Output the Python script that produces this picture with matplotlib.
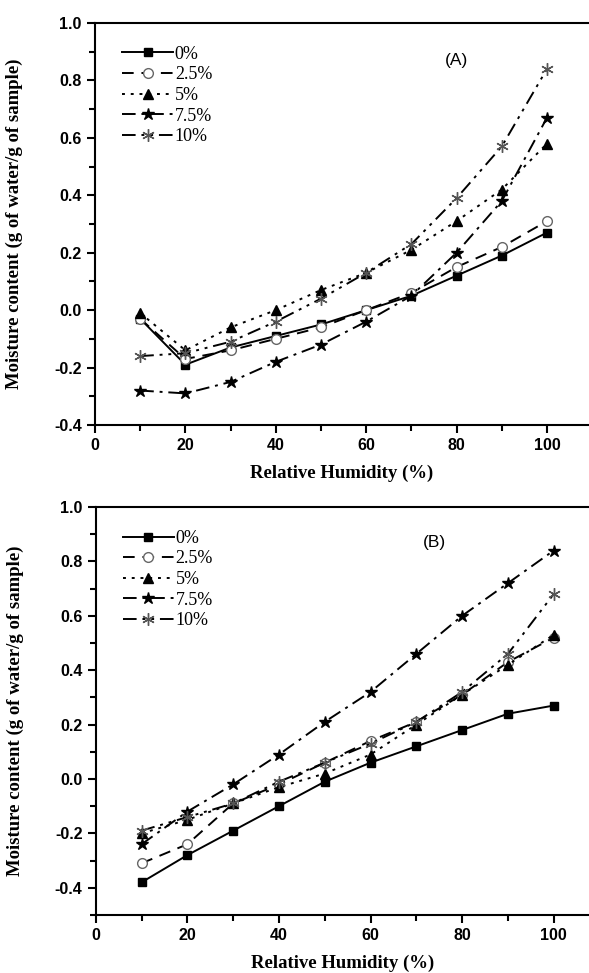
import numpy as np
import matplotlib
matplotlib.use('Agg')
import matplotlib.pyplot as plt

# Relative humidity levels
rh = [10, 20, 30, 40, 50, 60, 70, 80, 90, 100]
series_labels = ['0%', '2.5%', '5%', '7.5%', '10%']

# Panel (A) moisture content
a_0 = [-0.03, -0.19, -0.13, -0.09, -0.05, 0.00, 0.05, 0.12, 0.19, 0.27]
a_25 = [-0.03, -0.17, -0.14, -0.10, -0.06, 0.00, 0.06, 0.15, 0.22, 0.31]
a_5 = [-0.01, -0.14, -0.06, 0.00, 0.07, 0.13, 0.21, 0.31, 0.42, 0.58]
a_75 = [-0.28, -0.29, -0.25, -0.18, -0.12, -0.04, 0.05, 0.20, 0.38, 0.67]
a_10 = [-0.16, -0.15, -0.11, -0.04, 0.04, 0.13, 0.23, 0.39, 0.57, 0.84]

# Panel (B) moisture content
b_0 = [-0.38, -0.28, -0.19, -0.10, -0.01, 0.06, 0.12, 0.18, 0.24, 0.27]
b_25 = [-0.31, -0.24, -0.09, -0.02, 0.06, 0.14, 0.21, 0.31, 0.43, 0.52]
b_5 = [-0.20, -0.15, -0.09, -0.03, 0.02, 0.09, 0.20, 0.31, 0.42, 0.53]
b_75 = [-0.24, -0.12, -0.02, 0.09, 0.21, 0.32, 0.46, 0.60, 0.72, 0.84]
b_10 = [-0.19, -0.14, -0.09, -0.01, 0.06, 0.13, 0.21, 0.32, 0.46, 0.68]

styles = [
    dict(ls='-', marker='s', mfc='black', mec='black', ms=6),
    dict(ls=(0, (6, 4)), marker='o', mfc='white', mec='#666666', ms=7, mew=1.0),
    dict(ls=(0, (1.5, 3)), marker='^', mfc='black', mec='black', ms=7),
    dict(ls=(0, (7, 3, 1.5, 3)), marker='*', mfc='black', mec='black', ms=9),
    dict(ls=(0, (7, 3, 1.5, 3, 1.5, 3)), marker=(6, 2, 0), mfc='#555555', mec='#555555', ms=9, mew=1.0),
]

tick_font = dict(family='Liberation Sans', weight='bold', size=11.5)
label_font = dict(family='Liberation Serif', weight='bold', size=13.5)

fig = plt.figure(figsize=(5.89, 9.73), dpi=100)
ax_a = fig.add_axes([95 / 589, 1 - 425 / 973, 494 / 589, 402 / 973])
ax_b = fig.add_axes([95.7 / 589, 1 - 915 / 973, 493.3 / 589, 408 / 973])

panels = [
    (ax_a, [a_0, a_25, a_5, a_75, a_10], (-0.4, 1.0), 109.3, '(A)', 80),
    (ax_b, [b_0, b_25, b_5, b_75, b_10], (-0.5, 1.0), 107.7, '(B)', 74),
]

for ax, data, ylim, xmax, tag, tag_x in panels:
    for vals, lab, st in zip(data, series_labels, styles):
        ax.plot(rh, vals, color='black', lw=1.4, label=lab, **st)
    ax.set_xlim(0, xmax)
    ax.set_ylim(*ylim)
    ax.set_xticks([0, 20, 40, 60, 80, 100])
    ax.set_xticks([10, 30, 50, 70, 90], minor=True)
    yt = np.round(np.arange(-0.4, 1.01, 0.2), 1)
    ax.set_yticks(yt)
    ax.set_yticks(np.round(np.arange(ylim[0], 1.0, 0.1), 1), minor=True)
    ax.set_yticklabels(['%.1f' % v for v in yt], fontdict=tick_font)
    ax.set_xticklabels(['0', '20', '40', '60', '80', '100'], fontdict=tick_font)
    ax.tick_params(which='major', direction='out', length=6, width=1.5)
    ax.tick_params(which='minor', direction='out', length=4, width=1.5)
    ax.tick_params(top=False, right=False)
    for s in ['left', 'bottom', 'top']:
        ax.spines[s].set_linewidth(1.5)
    ax.spines['right'].set_visible(False)
    ax.set_xlabel('Relative Humidity (%)', fontdict=label_font, labelpad=8)
    ax.set_ylabel('Moisture content (g of water/g of sample)', fontdict=label_font)
    ax.yaxis.set_label_coords(-0.145, 0.5)
    ax.text(tag_x, 0.87, tag, family='Liberation Sans', fontsize=12.5, ha='center', va='center')
    ax.legend(loc='upper left', bbox_to_anchor=(0.03, 0.975), frameon=False,
              prop=dict(family='Liberation Serif', size=13), handlelength=2.8,
              handletextpad=0.1, labelspacing=0.2, borderaxespad=0.3)

fig.savefig('out.png', dpi=100)
